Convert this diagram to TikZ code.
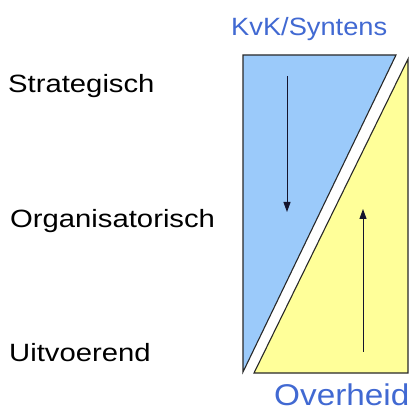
\documentclass[tikz,border=0pt]{standalone}
\usepackage{fontspec}
\setmainfont{Liberation Sans}
\usetikzlibrary{arrows.meta}
\definecolor{kvkblue}{RGB}{155,202,250}
\definecolor{govyellow}{RGB}{255,255,153}
\definecolor{titleblue}{RGB}{65,105,210}
\definecolor{edgegray}{RGB}{40,40,40}
\definecolor{arrowink}{RGB}{20,20,45}
\tikzset{
  level/.style={anchor=base west, inner sep=0pt, font=\fontsize{25}{30}\selectfont},
  party/.style={anchor=base west, inner sep=0pt, text=titleblue},
  part/.style={draw=edgegray, line width=1.1pt, line join=miter},
  flow/.style={draw=arrowink, line width=1pt, -{Triangle[width=7pt,length=10pt]}}
}
\begin{document}
\begin{tikzpicture}[x=1pt,y=-1pt]
  \useasboundingbox (0,0) rectangle (416,412);
  % levels
  \node[level] (strat) at (8,93) {\scalebox{1.17}[1]{Strategisch}};
  \node[level] (org) at (10,228) {\scalebox{1.17}[1]{Organisatorisch}};
  \node[level] (uit) at (9,361) {\scalebox{1.17}[1]{Uitvoerend}};
  % parties
  \node[party, font=\fontsize{25}{30}\selectfont] (kvk) at (231,36) {\scalebox{1.09}[1]{KvK/Syntens}};
  \node[party, font=\fontsize{30}{36}\selectfont] (gov) at (274,405) {\scalebox{1.11}[1]{Overheid}};
  % the two shares
  \draw[part, fill=kvkblue] (243,55) coordinate (b1) -- (396,55) coordinate (b2) -- (243,372) coordinate (b3) -- cycle;
  \draw[part, fill=govyellow] (254,373) coordinate (y1) -- (408,59) coordinate (y2) -- (408,373) coordinate (y3) -- cycle;
  % direction of influence
  \coordinate (dtop) at (287,76);
  \coordinate (dbot) at (287,212);
  \coordinate (ubot) at (363,352);
  \coordinate (utop) at (363,209);
  \draw[flow] (dtop) -- (dbot);
  \draw[flow] (ubot) -- (utop);
\end{tikzpicture}
\end{document}
